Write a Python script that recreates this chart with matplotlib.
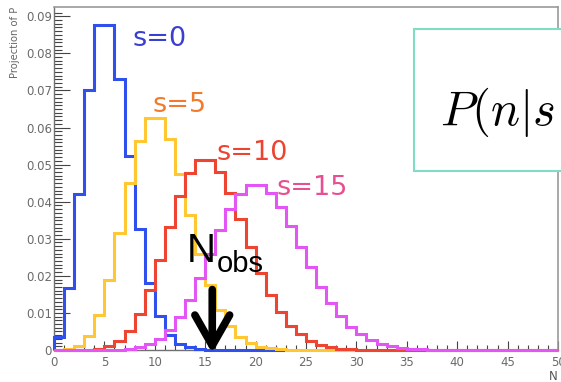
import numpy as np
import matplotlib
matplotlib.use('Agg')
import matplotlib.pyplot as plt
from matplotlib.patches import Rectangle

# Histogram contents, one bin per unit of N (bins 0..49) #
s0_counts = [0.0034, 0.0168, 0.0421, 0.0702, 0.0877, 0.0877, 0.0731, 0.0522, 0.0326, 0.0181,
             0.0091, 0.0041, 0.0017, 0.0007, 0.0002, 0.0001, 0.0, 0.0, 0.0, 0.0, 0.0, 0.0, 0.0]
s5_counts = [0.0000, 0.0002, 0.0011, 0.0038, 0.0095, 0.0189, 0.0315, 0.0451, 0.0563, 0.0626,
             0.0626, 0.0569, 0.0474, 0.0365, 0.0260, 0.0174, 0.0109, 0.0064, 0.0035, 0.0019,
             0.0009, 0.0005, 0.0002, 0.0001]
s10_counts = [0.0000, 0.0000, 0.0000, 0.0001, 0.0003, 0.0010, 0.0024, 0.0052, 0.0097, 0.0162,
              0.0243, 0.0331, 0.0414, 0.0478, 0.0512, 0.0512, 0.0480, 0.0424, 0.0353, 0.0279,
              0.0209, 0.0149, 0.0102, 0.0066, 0.0042, 0.0025, 0.0014, 0.0008, 0.0004, 0.0002,
              0.0001, 0.0001]
s15_counts = [0.0000, 0.0000, 0.0000, 0.0000, 0.0000, 0.0000, 0.0001, 0.0003, 0.0007, 0.0015,
              0.0029, 0.0053, 0.0088, 0.0136, 0.0194, 0.0258, 0.0323, 0.0380, 0.0422, 0.0444,
              0.0444, 0.0423, 0.0385, 0.0334, 0.0279, 0.0223, 0.0171, 0.0127, 0.0091, 0.0063,
              0.0042, 0.0027, 0.0017, 0.0010, 0.0006, 0.0003, 0.0002, 0.0001]
n_obs = 15.7

# (label, contents, last drawn bin edge, line colour, label colour) #
series = [('s=0', s0_counts, 23, '#3050ee', '#3a3fd0'),
          ('s=5', s5_counts, 36, '#ffc832', '#f27a2c'),
          ('s=10', s10_counts, 50, '#ee4432', '#ec4430'),
          ('s=15', s15_counts, 50, '#e455f5', '#e64f92')]
label_pos = [(7.74, 0.0821), (9.82, 0.0642), (16.17, 0.0512), (22.12, 0.0418)]

y_ticks = [0, 0.01, 0.02, 0.03, 0.04, 0.05, 0.06, 0.07, 0.08, 0.09]
y_tick_labels = ['0', '0.01', '0.02', '0.03', '0.04', '0.05', '0.06', '0.07', '0.08', '0.09']
x_ticks = [0, 5, 10, 15, 20, 25, 30, 35, 40, 45, 50]

W, H = 561, 382
fig = plt.figure(figsize=(W / 100, H / 100), dpi=100)
ax = fig.add_axes([54 / W, (H - 350) / H, (558 - 54) / W, (350 - 7) / H])

for (name, counts, last_edge, colour, text_colour), (tx, ty) in zip(series, label_pos):
    values = np.pad(np.array(counts), (0, last_edge - len(counts)))
    ax.stairs(values, np.arange(0, last_edge + 1), baseline=0, color=colour, lw=2.2, clip_on=False, zorder=3)
    ax.text(tx, ty, name, color=text_colour, fontsize=19.5, family='DejaVu Sans', va='baseline', ha='left')

# N_obs marker #
ax.annotate('', xy=(n_obs, -0.0009), xytext=(n_obs, 0.0163),
            arrowprops=dict(arrowstyle='->,head_length=2.2,head_width=1.25', lw=5.5, color='k',
                            shrinkA=0, shrinkB=0), annotation_clip=False, zorder=4)
ax.text(13.2, 0.0237, 'N', fontsize=29, family='Liberation Sans', va='baseline', ha='left')
ax.text(16.17, 0.0210, 'obs', fontsize=21, family='Liberation Sans', va='baseline', ha='left')

ax.set_xlim(0, 50)
ax.set_ylim(0, 0.0925)
ax.set_yticks(y_ticks)
ax.set_yticklabels(y_tick_labels)
ax.set_yticks(np.arange(0, 0.092, 0.001), minor=True)
ax.set_xticks(x_ticks)
ax.set_xticks(np.arange(0, 51, 1), minor=True)
ax.tick_params(axis='y', which='major', direction='in', length=11.5, width=0.8, color='#444',
               labelsize=8.5, labelcolor='#6a6a6a', pad=1.5, right=False)
ax.tick_params(axis='y', which='minor', direction='in', length=5.8, width=0.8, color='#444', right=False)
ax.tick_params(axis='x', which='major', direction='in', length=6.5, width=0.8, color='#444',
               labelsize=8.5, labelcolor='#6a6a6a', pad=4.5, top=False)
ax.tick_params(axis='x', which='minor', direction='in', length=3.6, width=0.8, color='#444', top=False)
for side in ['left', 'bottom']:
    ax.spines[side].set_color('#707070')
    ax.spines[side].set_linewidth(1.0)
for side in ['top', 'right']:
    ax.spines[side].set_color('#999999')
    ax.spines[side].set_linewidth(1.2)

fig.text(15 / W, (H - 7) / H, 'Projection of P', rotation=90, fontsize=7.2, color='#666666',
         family='DejaVu Sans', ha='center', va='top')
fig.text(549 / W, (H - 380) / H, 'N', fontsize=8.5, color='#555555', family='DejaVu Sans',
         va='baseline', ha='left')

# Formula box on the right, cut by the edge #
box = Rectangle((414 / W, (H - 171) / H), 0.5, 142 / H, transform=fig.transFigure,
                facecolor='white', edgecolor='#7fdcc5', lw=1.5, zorder=5)
fig.add_artist(box)
fig.text(440 / W, (H - 125) / H, r'$P(n|s$', fontsize=35, math_fontfamily='cm', zorder=6)

plt.savefig('out.png', dpi=100)
